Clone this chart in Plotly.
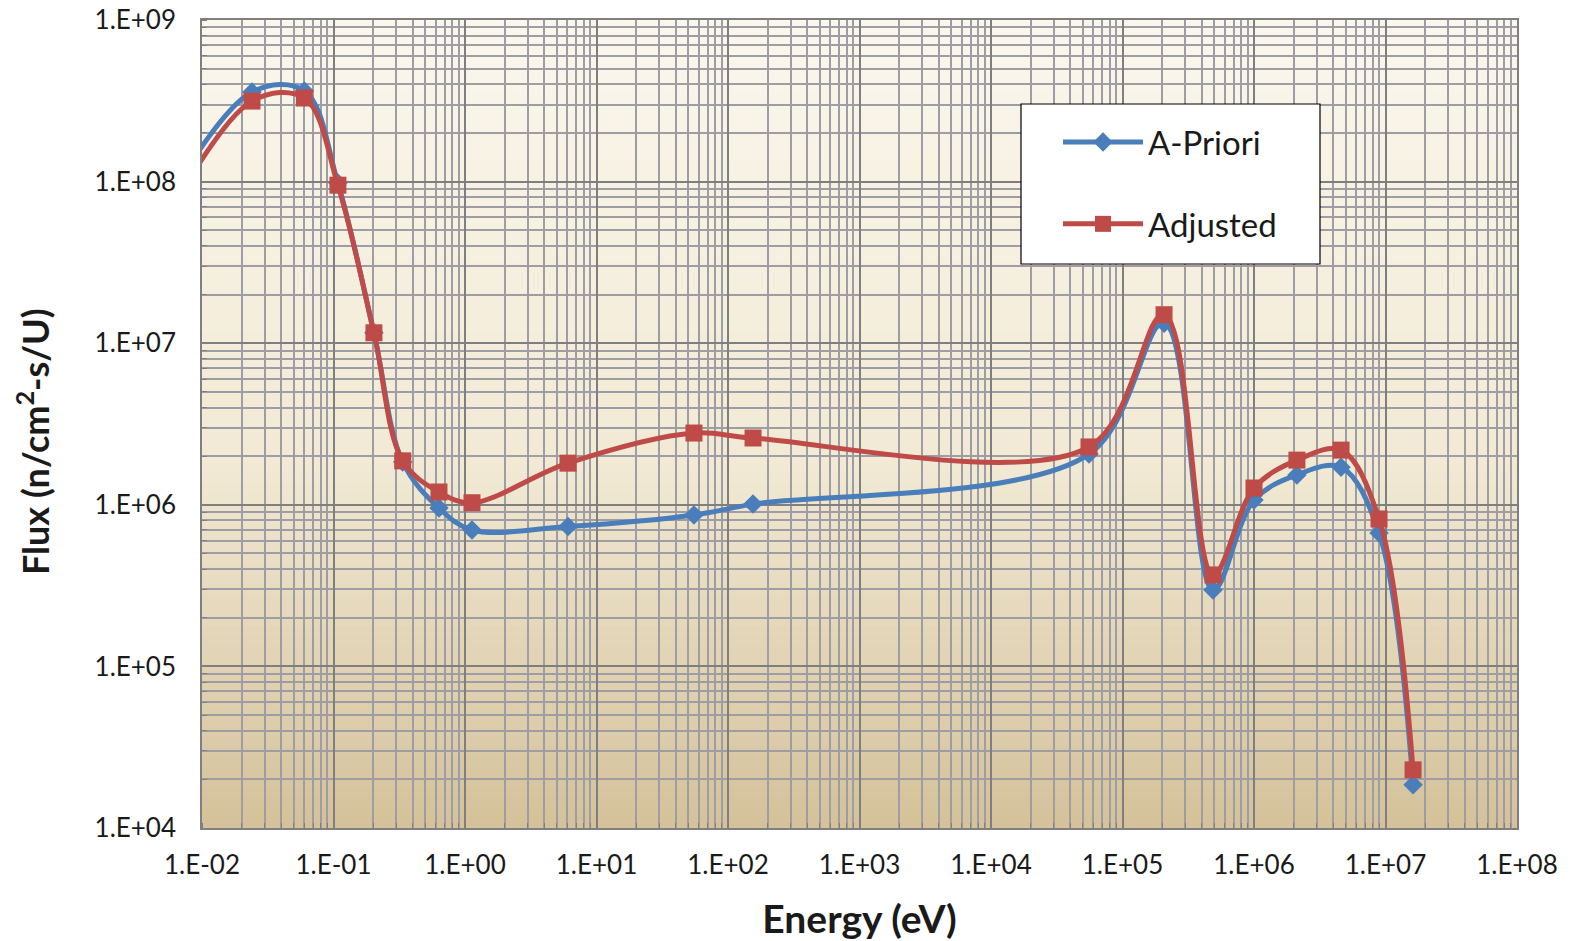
import plotly.graph_objects as go
import numpy as np

# Energy (eV) at each marker (first point lies just left of the axis range)
energy = [0.004, 0.024, 0.060, 0.108, 0.203, 0.336, 0.634, 1.13, 6.07, 55.1, 155,
          5.56e4, 2.07e5, 4.88e5, 1.0e6, 2.12e6, 4.59e6, 8.93e6, 1.62e7]
apriori = [5.0e7, 3.58e8, 3.64e8, 9.8e7, 1.16e7, 1.84e6, 9.55e5, 6.98e5, 7.34e5, 8.65e5, 1.01e6,
           2.06e6, 1.33e7, 2.97e5, 1.07e6, 1.53e6, 1.71e6, 6.69e5, 1.85e4]
adjusted = [3.8e7, 3.15e8, 3.29e8, 9.5e7, 1.16e7, 1.87e6, 1.2e6, 1.03e6, 1.81e6, 2.78e6, 2.59e6,
            2.28e6, 1.50e7, 3.68e5, 1.27e6, 1.89e6, 2.18e6, 8.17e5, 2.29e4]

x_ticks = [1e-2, 1e-1, 1e0, 1e1, 1e2, 1e3, 1e4, 1e5, 1e6, 1e7, 1e8]
x_labels = ["1.E-02", "1.E-01", "1.E+00", "1.E+01", "1.E+02", "1.E+03", "1.E+04",
            "1.E+05", "1.E+06", "1.E+07", "1.E+08"]
y_ticks = [1e4, 1e5, 1e6, 1e7, 1e8, 1e9]
y_labels = ["1.E+04", "1.E+05", "1.E+06", "1.E+07", "1.E+08", "1.E+09"]

BLUE = "#4A7EBB"
RED = "#BE4B48"
FONT = "Lato"

fig = go.Figure()
fig.add_trace(go.Scatter(
    x=energy, y=apriori, name="A-Priori", mode="lines+markers",
    line=dict(color=BLUE, width=5, shape="spline", smoothing=1.0),
    marker=dict(symbol="diamond", size=15, color=BLUE),
    legendgroup="a"))
fig.add_trace(go.Scatter(
    x=energy, y=adjusted, name="Adjusted", mode="lines+markers",
    line=dict(color=RED, width=5, shape="spline", smoothing=1.0),
    marker=dict(symbol="square", size=17, color=RED),
    legendgroup="b"))

# gradient background in bands
top = np.array([251, 247, 237])
mid = np.array([242, 234, 213])
bot = np.array([213, 194, 155])
n = 80
shapes = []
for i in range(n):
    t = i / (n - 1)  # 0 top -> 1 bottom
    if t < 0.55:
        c = top + (mid - top) * (t / 0.55)
    else:
        c = mid + (bot - mid) * ((t - 0.55) / 0.45)
    y1 = 1 - i / n
    y0 = 1 - (i + 1) / n
    shapes.append(dict(type="rect", xref="x domain", yref="y domain",
                       x0=0, x1=1, y0=y0, y1=y1 + 0.001, layer="below",
                       line=dict(width=0),
                       fillcolor="rgb(%d,%d,%d)" % tuple(int(v) for v in c)))

# legend box
shapes.append(dict(type="rect", xref="paper", yref="paper",
                   x0=(1021 - 202) / 1315, x1=(1320 - 202) / 1315,
                   y0=(828 - 264) / 808, y1=(828 - 104) / 808,
                   fillcolor="white", line=dict(color="black", width=1.2), layer="above"))

fig.update_layout(
    width=1571, height=941,
    margin=dict(l=202, r=54, t=20, b=113),
    paper_bgcolor="white", plot_bgcolor="rgba(0,0,0,0)",
    shapes=shapes,
    showlegend=True,
    legend=dict(x=(1058 - 202) / 1315, y=(828 - 114) / 808, xanchor="left", yanchor="top",
                bgcolor="rgba(0,0,0,0)", borderwidth=0,
                font=dict(family=FONT, size=33, color="#1a1a1a"),
                tracegroupgap=36, traceorder="grouped", itemwidth=80),
    font=dict(family=FONT, size=26, color="#1a1a1a"),
    annotations=[dict(text="<b>Flux (n/cm<sup>2</sup>-s/U)</b>", textangle=-90,
                      xref="paper", yref="paper",
                      x=(33 - 202) / 1315, y=(828 - 442) / 808,
                      xanchor="center", yanchor="middle", showarrow=False,
                      font=dict(family=FONT, size=36, color="#1a1a1a"))],
)

fig.update_xaxes(
    type="log", range=[-2, 8], automargin=False,
    tickvals=x_ticks, ticktext=x_labels,
    showgrid=True, gridcolor="#7f7f7f", gridwidth=1.5,
    showline=True, linecolor="#7f7f7f", linewidth=1.5, mirror=True,
    ticks="", tickfont=dict(size=26), ticklabelstandoff=13,
    minor=dict(dtick="D1", showgrid=True, gridcolor="#9d9da3", gridwidth=1.5,
               ticks="inside", ticklen=5, tickcolor="#7f7f7f"),
    title=dict(text="<b>Energy (eV)</b>", font=dict(size=39), standoff=28),
    zeroline=False,
)
fig.update_yaxes(
    type="log", range=[4, 9], automargin=False,
    tickvals=y_ticks, ticktext=y_labels,
    showgrid=True, gridcolor="#7f7f7f", gridwidth=1.5,
    showline=True, linecolor="#7f7f7f", linewidth=1.5, mirror=True,
    ticks="", tickfont=dict(size=26), ticklabelstandoff=19,
    minor=dict(dtick="D1", showgrid=True, gridcolor="#9d9da3", gridwidth=1.5,
               ticks="inside", ticklen=5, tickcolor="#7f7f7f"),
    zeroline=False,
)

fig.write_html("out.html", config={"displayModeBar": False},
               post_script="document.body.style.margin='0';")
